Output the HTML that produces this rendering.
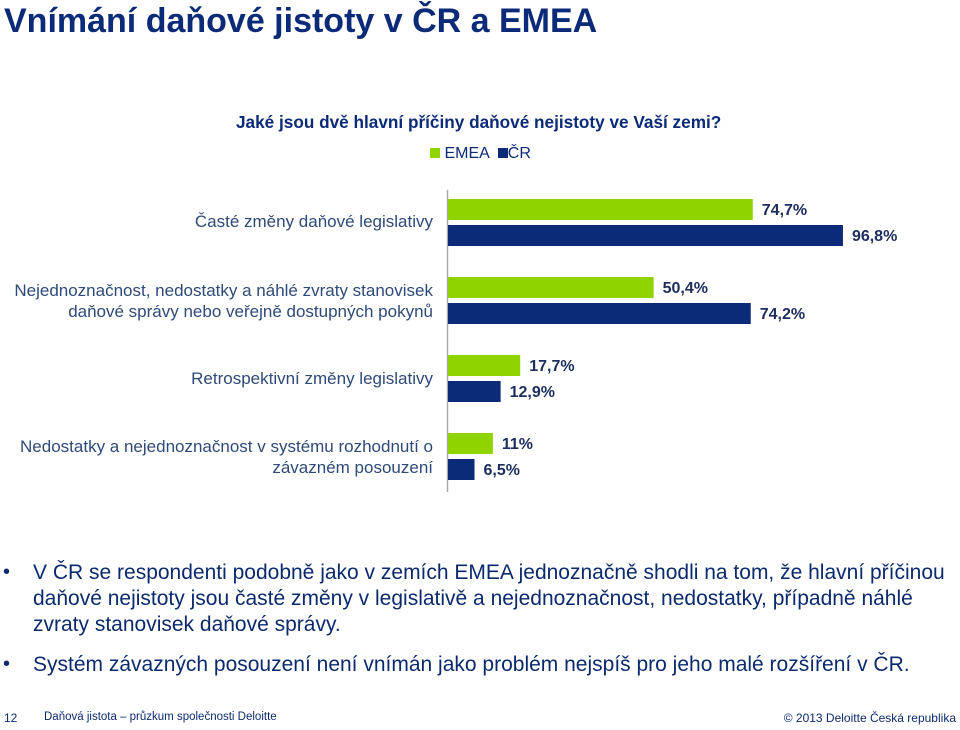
<!DOCTYPE html>
<html><head><meta charset="utf-8"><style>
body{margin:0;width:960px;height:730px;background:#fff;font-family:"Liberation Sans",sans-serif;position:relative;overflow:hidden}
.a{position:absolute;white-space:nowrap}
.cat{position:absolute;right:527px;text-align:right;color:#2e4a78;font-size:17px;line-height:21px}
.bul{position:absolute;left:33px;color:#0b2a6e;font-size:21px;line-height:26px;width:925px}
.dot{position:absolute;left:3px;color:#0b2a6e;font-size:20px}
</style></head><body>
<div class="a" style="left:4px;top:2px;font-size:34px;font-weight:bold;color:#0b2a78">Vnímání daňové jistoty v ČR a EMEA</div>
<div class="a" style="left:236px;top:112px;font-size:17.2px;font-weight:bold;color:#0b2a78">Jaké jsou dvě hlavní příčiny daňové nejistoty ve Vaší zemi?</div>
<div class="a" style="left:430px;top:145px;font-size:16px;color:#0b2a78">
<span><span style="display:inline-block;width:10px;height:10px;background:#8fd400"></span> EMEA</span>
&nbsp;<span><span style="display:inline-block;width:10px;height:10px;background:#0b2a78"></span>ČR</span></div>
<div class="cat" style="top:211px">Časté změny daňové legislativy</div>
<div class="cat" style="top:280px">Nejednoznačnost, nedostatky a náhlé zvraty stanovisek<br>daňové správy nebo veřejně dostupných pokynů</div>
<div class="cat" style="top:368px">Retrospektivní změny legislativy</div>
<div class="cat" style="top:436px">Nedostatky a nejednoznačnost v systému rozhodnutí o<br>závazném posouzení</div>
<svg id="chart" width="960" height="730" style="position:absolute;left:0;top:0">
<line x1="447.5" y1="190" x2="447.5" y2="492" stroke="#aaa" stroke-width="1.5"/>
</svg>
<div class="dot" style="top:561px">•</div>
<div class="bul" style="top:560px">V ČR se respondenti podobně jako v zemích EMEA jednoznačně shodli na tom, že hlavní příčinou daňové nejistoty jsou časté změny v legislativě a nejednoznačnost, nedostatky, případně náhlé zvraty stanovisek daňové správy.</div>
<div class="dot" style="top:653px">•</div>
<div class="bul" style="top:652px">Systém závazných posouzení není vnímán jako problém nejspíš pro jeho malé rozšíření v ČR.</div>
<div class="a" style="left:4px;top:711px;font-size:12px;color:#0b2a6e">12</div>
<div class="a" style="left:44px;top:711px;font-size:11.5px;color:#0b2a6e">Daňová jistota – průzkum společnosti Deloitte</div>
<div class="a" style="right:4px;top:711px;font-size:12px;color:#0b2a6e">© 2013 Deloitte Česká republika</div>
<script>
const categories=["Časté změny daňové legislativy","Nejednoznačnost, nedostatky a náhlé zvraty stanovisek","Retrospektivní změny legislativy","Nedostatky a nejednoznačnost v systému rozhodnutí o závazném posouzení"];
const emeaValues=[74.7,50.4,17.7,11];
const crValues=[96.8,74.2,12.9,6.5];
const emeaLabels=["74,7%","50,4%","17,7%","11%"];
const crLabels=["96,8%","74,2%","12,9%","6,5%"];
const svg=document.getElementById('chart');
const NS='http://www.w3.org/2000/svg';
const x0=448,pxPer=4.08;
function xs(v){return v*pxPer;}
function yg(i){return 199+i*78;}
function bar(i,v,lab,dy,col,name){
 const r=document.createElementNS(NS,'rect');
 r.setAttribute('x',x0);r.setAttribute('y',yg(i)+dy);r.setAttribute('width',xs(v));r.setAttribute('height',21);r.setAttribute('fill',col);
 
 
 svg.appendChild(r);
 const t=document.createElementNS(NS,'text');
 t.setAttribute('x',x0+xs(v)+9);t.setAttribute('y',yg(i)+dy+16);t.setAttribute('font-size','16');t.setAttribute('font-weight','bold');t.setAttribute('fill','#1c2d5e');
 t.textContent=lab;
 
 
 svg.appendChild(t);
}
for(let i=0;i<categories.length;i++){
 bar(i,emeaValues[i],emeaLabels[i],0,'#8fd400','emea');
 bar(i,crValues[i],crLabels[i],26,'#0b2a78','cr');
}
</script>
</body></html>
